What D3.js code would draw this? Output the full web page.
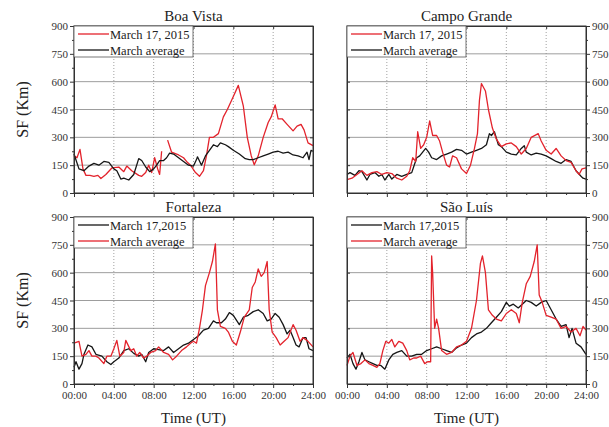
<!DOCTYPE html>
<html lang="en">
<head>
<meta charset="UTF-8">
<title>SF March 17, 2015</title>
<script src="https://cdn.jsdelivr.net/npm/d3@7"></script>
<style>
  body { margin: 0; background: #fff; }
  svg text { font-family: "Liberation Serif", "DejaVu Serif", serif !important; fill: #222; }
</style>
</head>
<body>
<svg id="chart" width="609" height="427"></svg>
<script>
// values: [hour UT, SF km]
const boaVistaDay = [[0,200],[0.3,190],[0.6,235],[0.9,130],[1.2,95],[1.6,95],[2,90],[2.4,95],[2.7,78],[3.2,100],[3.8,135],[4.5,140],[5,115],[5.3,145],[5.8,120],[6.5,95],[6.8,90],[7.2,110],[7.5,150],[7.8,110],[8.1,190],[8.4,130],[8.6,100],[8.8,225]];
const boaVistaDay2 = [[9.4,285],[9.8,220],[10.5,205],[11,190],[11.3,170],[11.7,150],[12.2,110],[12.6,90],[13,120],[13.3,200],[13.6,300],[14,300],[14.5,320],[15,410],[15.4,450],[16,520],[16.5,580],[17,470],[17.4,300],[17.8,200],[18.1,152],[18.5,200],[19,300],[19.5,380],[19.8,410],[20.2,475],[20.5,400],[20.9,400],[21.4,370],[22,335],[22.4,360],[22.8,370],[23.1,340],[23.5,270],[24,255]];
const boaVistaAvg = [[0,210],[0.5,130],[1,120],[1.5,145],[2,160],[2.5,150],[3,170],[3.5,165],[4,130],[4.3,120],[4.7,75],[5,80],[5.5,70],[6,100],[6.5,185],[6.8,175],[7.2,140],[7.6,115],[8,130],[8.3,150],[8.6,175],[9,175],[9.3,190],[9.6,215],[10,210],[10.5,190],[11,170],[11.5,150],[12,145],[12.3,180],[12.4,195],[12.8,150],[13.2,200],[13.6,230],[14,260],[14.4,250],[14.7,270],[15.2,260],[15.5,250],[16,230],[16.6,210],[17.2,185],[17.6,180],[18,180],[18.5,190],[19,200],[19.5,210],[20,220],[20.5,225],[21,215],[21.5,220],[22,205],[22.5,200],[23,190],[23.4,220],[23.6,180],[23.8,230],[24,225]];

const campoDay = [[0,72],[0.5,80],[1,100],[1.5,120],[2,95],[2.5,110],[3,115],[3.5,100],[4,110],[4.5,105],[5,80],[5.5,70],[6,90],[6.3,120],[6.6,190],[6.9,170],[7.1,330],[7.4,240],[7.7,260],[8,300],[8.3,388],[8.6,310],[9,310],[9.3,280],[9.6,220],[10,150],[10.3,140],[10.6,200],[11,190],[11.5,130],[12,105],[12.4,150],[12.8,240],[13.1,320],[13.3,500],[13.5,590],[13.9,550],[14.2,450],[14.6,350],[15,290],[15.5,250],[16,265],[16.5,270],[17,250],[17.5,210],[18,240],[18.5,300],[19.2,320],[19.5,280],[20,230],[20.5,210],[21,240],[21.5,200],[22,175],[22.5,165],[23,120],[23.3,100],[23.6,130],[24,135]];
const campoAvg = [[0,100],[0.3,110],[0.8,95],[1.2,120],[1.5,115],[2,70],[2.3,100],[2.8,110],[3.2,90],[3.5,100],[3.8,70],[4.2,100],[4.5,75],[5,100],[5.5,90],[6,100],[6.5,110],[7,190],[7.3,200],[7.6,220],[7.9,240],[8.2,220],[8.5,190],[9,180],[9.5,200],[10,210],[10.5,220],[11,235],[11.5,230],[12,210],[12.5,220],[13,230],[13.5,240],[14,260],[14.3,320],[14.5,310],[14.8,330],[15.2,260],[15.5,250],[16,220],[16.5,210],[17,205],[17.5,240],[17.8,255],[18,220],[18.5,205],[19,215],[19.5,210],[20,200],[20.5,185],[21,170],[21.5,160],[22,180],[22.5,170],[23,120],[23.5,90],[23.7,80],[24,75]];

const fortalezaDay = [[0,90],[0.2,120],[0.5,80],[0.8,110],[1,160],[1.4,210],[1.8,200],[2.2,160],[2.8,150],[3.3,120],[3.7,105],[4,120],[4.5,140],[5,180],[5.5,190],[6,165],[6.5,150],[6.8,160],[7.2,120],[7.5,170],[8,190],[8.5,185],[9,180],[9.5,200],[10,170],[10.5,190],[11,210],[11.5,220],[12,240],[12.5,260],[13,290],[13.5,300],[14,340],[14.3,330],[14.8,330],[15.2,350],[15.6,385],[16,370],[16.6,320],[17,360],[17.5,370],[18,390],[18.5,400],[19,380],[19.4,340],[19.8,350],[20.2,380],[20.6,360],[21,320],[21.4,270],[21.7,290],[22,250],[22.3,210],[22.6,200],[23,250],[23.3,250],[23.6,190],[24,180]];
const fortalezaAvg = [[0,220],[0.5,230],[0.8,150],[1.2,160],[1.5,180],[1.8,150],[2.2,150],[2.5,140],[3,110],[3.3,150],[3.7,150],[4,190],[4.3,235],[4.6,150],[5,170],[5.2,235],[5.7,180],[6,190],[6.3,150],[6.6,170],[7,140],[7.3,150],[7.7,170],[8.2,180],[8.5,200],[9,170],[9.5,160],[9.9,130],[10.3,150],[10.8,180],[11.3,200],[11.7,220],[12,230],[12.3,220],[12.6,300],[12.9,400],[13.2,530],[13.6,600],[13.9,660],[14.2,755],[14.4,400],[14.7,310],[15.2,300],[15.5,280],[15.9,230],[16.3,210],[16.7,280],[17.1,360],[17.6,400],[17.9,520],[18.2,550],[18.5,620],[18.8,580],[19.1,600],[19.4,660],[19.6,400],[19.9,280],[20.3,250],[20.7,210],[21.1,230],[21.5,250],[22,320],[22.3,290],[22.7,230],[23,250],[23.5,230],[24,200]];

const saoLuisDay = [[0,140],[0.3,160],[0.6,110],[0.9,80],[1.2,120],[1.5,170],[1.8,130],[2.2,120],[2.6,110],[3,100],[3.4,100],[3.8,80],[4.2,130],[4.6,160],[5,170],[5.5,180],[6,150],[6.5,150],[7,160],[7.5,160],[8,180],[8.5,190],[9,200],[9.5,190],[10,180],[10.5,170],[11,195],[11.5,210],[12,220],[12.5,250],[13,270],[13.5,280],[14,300],[14.5,330],[15,360],[15.5,390],[16,440],[16.3,420],[16.7,430],[17.2,410],[17.6,430],[18,450],[18.5,440],[19,420],[19.5,440],[20,450],[20.5,400],[21,350],[21.5,310],[22,320],[22.3,250],[22.6,300],[23,220],[23.5,200],[24,160]];
const saoLuisAvg = [[0,100],[0.3,150],[0.6,170],[1,100],[1.4,110],[1.8,130],[2.2,110],[2.6,100],[3,90],[3.3,110],[3.6,180],[3.9,230],[4.2,220],[4.5,240],[4.8,200],[5.2,230],[5.6,220],[6,180],[6.3,130],[6.7,140],[7,140],[7.4,150],[7.8,110],[8.1,120],[8.4,120],[8.5,690],[8.6,600],[8.8,300],[9,350],[9.2,300],[9.5,180],[10,160],[10.5,170],[11,200],[11.5,210],[12,230],[12.5,300],[13,450],[13.4,650],[13.6,690],[13.9,600],[14.2,400],[14.6,370],[15,350],[15.5,340],[16,380],[16.5,400],[17,380],[17.3,330],[17.6,440],[18,540],[18.4,580],[18.8,660],[19.1,750],[19.3,480],[19.6,440],[20,370],[20.5,360],[21,350],[21.5,300],[22,310],[22.5,280],[23,300],[23.4,260],[23.7,310],[24,290]];

const yTicks = [0, 150, 300, 450, 600, 750, 900];
const xTicks = [0, 4, 8, 12, 16, 20, 24];
const xTickLabels = ["00:00", "04:00", "08:00", "12:00", "16:00", "20:00", "24:00"];

const RED = "#e3232c", BLACK = "#161616";

const panels = [
  {title: "Boa Vista", x0: 74, y0: 26, side: "left", xlab: false,
   series: [{d: boaVistaDay, c: RED}, {d: boaVistaDay2, c: RED}, {d: boaVistaAvg, c: BLACK}],
   legend: [["March 17, 2015", RED], ["March average", BLACK]]},
  {title: "Campo Grande", x0: 347, y0: 26, side: "right", xlab: false,
   series: [{d: campoAvg, c: BLACK}, {d: campoDay, c: RED}],
   legend: [["March 17, 2015", RED], ["March average", BLACK]]},
  {title: "Fortaleza", x0: 74, y0: 217, side: "left", xlab: true,
   series: [{d: fortalezaDay, c: BLACK}, {d: fortalezaAvg, c: RED}],
   legend: [["March 17,2015", BLACK], ["March average", RED]]},
  {title: "São Luís", x0: 347, y0: 217, side: "right", xlab: true,
   series: [{d: saoLuisDay, c: BLACK}, {d: saoLuisAvg, c: RED}],
   legend: [["March 17,2015", BLACK], ["March average", RED]]}
];

const W = 239, H = 167;
const svg = d3.select("#chart");

panels.forEach(p => {
  const g = svg.append("g").attr("transform", `translate(${p.x0},${p.y0})`);
  const x = d3.scaleLinear().domain([0, 24]).range([0, W]);
  const y = d3.scaleLinear().domain([0, 900]).range([H, 0]);

  // grid
  g.selectAll("line.hg").data(yTicks.slice(1, -1)).enter().append("line")
    .attr("x1", 0).attr("x2", W).attr("y1", d => y(d)).attr("y2", d => y(d))
    .attr("stroke", "#9d9d9d").attr("stroke-width", 1);
  g.selectAll("line.vg").data(xTicks.slice(1, -1)).enter().append("line")
    .attr("y1", 0).attr("y2", H).attr("x1", d => x(d)).attr("x2", d => x(d))
    .attr("stroke", "#8a8a8a").attr("stroke-width", 0.8).attr("stroke-dasharray", "1,2");

  // lines
  const line = d3.line().x(d => x(d[0])).y(d => y(d[1]));
  p.series.forEach(s => {
    g.append("path").datum(s.d).attr("d", line)
      .attr("fill", "none").attr("stroke", s.c).attr("stroke-width", 1.3)
      .attr("stroke-linejoin", "round");
  });

  // axes
  const yMinor = d3.range(75, 900, 150);
  const xMinor = d3.range(2, 24, 4);
  const yOut = p.side === "left" ? d3.axisLeft(y) : d3.axisRight(y);
  const yIn = p.side === "left" ? d3.axisRight(y) : d3.axisLeft(y);
  g.append("g").attr("transform", p.side === "left" ? "" : `translate(${W},0)`)
    .call(yOut.tickValues(yTicks).tickSize(4).tickPadding(2).tickFormat(d3.format("d")));
  g.append("g").attr("transform", p.side === "left" ? "" : `translate(${W},0)`)
    .call((p.side === "left" ? d3.axisLeft(y) : d3.axisRight(y)).tickValues(yMinor).tickSize(2).tickFormat(""));
  const yOpp = p.side === "left" ? W : 0;
  g.append("g").attr("transform", `translate(${yOpp},0)`)
    .call(yIn.tickValues(yTicks).tickSize(-3).tickFormat(""));

  g.append("g").attr("transform", `translate(0,${H})`)
    .call(d3.axisBottom(x).tickValues(xTicks).tickSize(4).tickPadding(3)
      .tickFormat((d, i) => p.xlab ? xTickLabels[i] : ""));
  g.append("g").attr("transform", `translate(0,${H})`)
    .call(d3.axisBottom(x).tickValues(xMinor).tickSize(2).tickFormat(""));
  g.append("g").call(d3.axisTop(x).tickValues(xTicks).tickSize(-3).tickFormat(""));

  g.selectAll(".domain").attr("stroke", "#333");
  g.selectAll(".tick line").attr("stroke", "#333");
  g.selectAll(".tick text").style("font-size", "11px").style("fill", "#333");
  g.append("rect").attr("width", W).attr("height", H)
    .attr("fill", "none").attr("stroke", "#333").attr("stroke-width", 1);

  // legend
  const lg = g.append("g");
  lg.append("rect").attr("x", 0).attr("y", 0).attr("width", 119)
    .attr("height", 31).attr("fill", "#fff").attr("stroke", "#555").attr("stroke-width", 0.8);
  p.legend.forEach((l, i) => {
    const ly = 8 + i * 16;
    lg.append("line").attr("x1", 4).attr("x2", 35).attr("y1", ly).attr("y2", ly)
      .attr("stroke", l[1]).attr("stroke-width", 1.3);
    lg.append("text").attr("x", 36).attr("y", ly + 4.5).style("font-size", "12.5px").text(l[0]);
  });

  // title
  g.append("text").attr("x", W / 2).attr("y", -5).attr("text-anchor", "middle")
    .style("font-size", "15px").text(p.title);

  if (p.side === "left") {
    g.append("text").attr("transform", `translate(-46,${H / 2}) rotate(-90)`)
      .attr("text-anchor", "middle").style("font-size", "16px").text("SF (Km)");
  }
  if (p.xlab) {
    g.append("text").attr("x", W / 2).attr("y", H + 39).attr("text-anchor", "middle")
      .style("font-size", "15px").text("Time (UT)");
  }
});
</script>
</body>
</html>
